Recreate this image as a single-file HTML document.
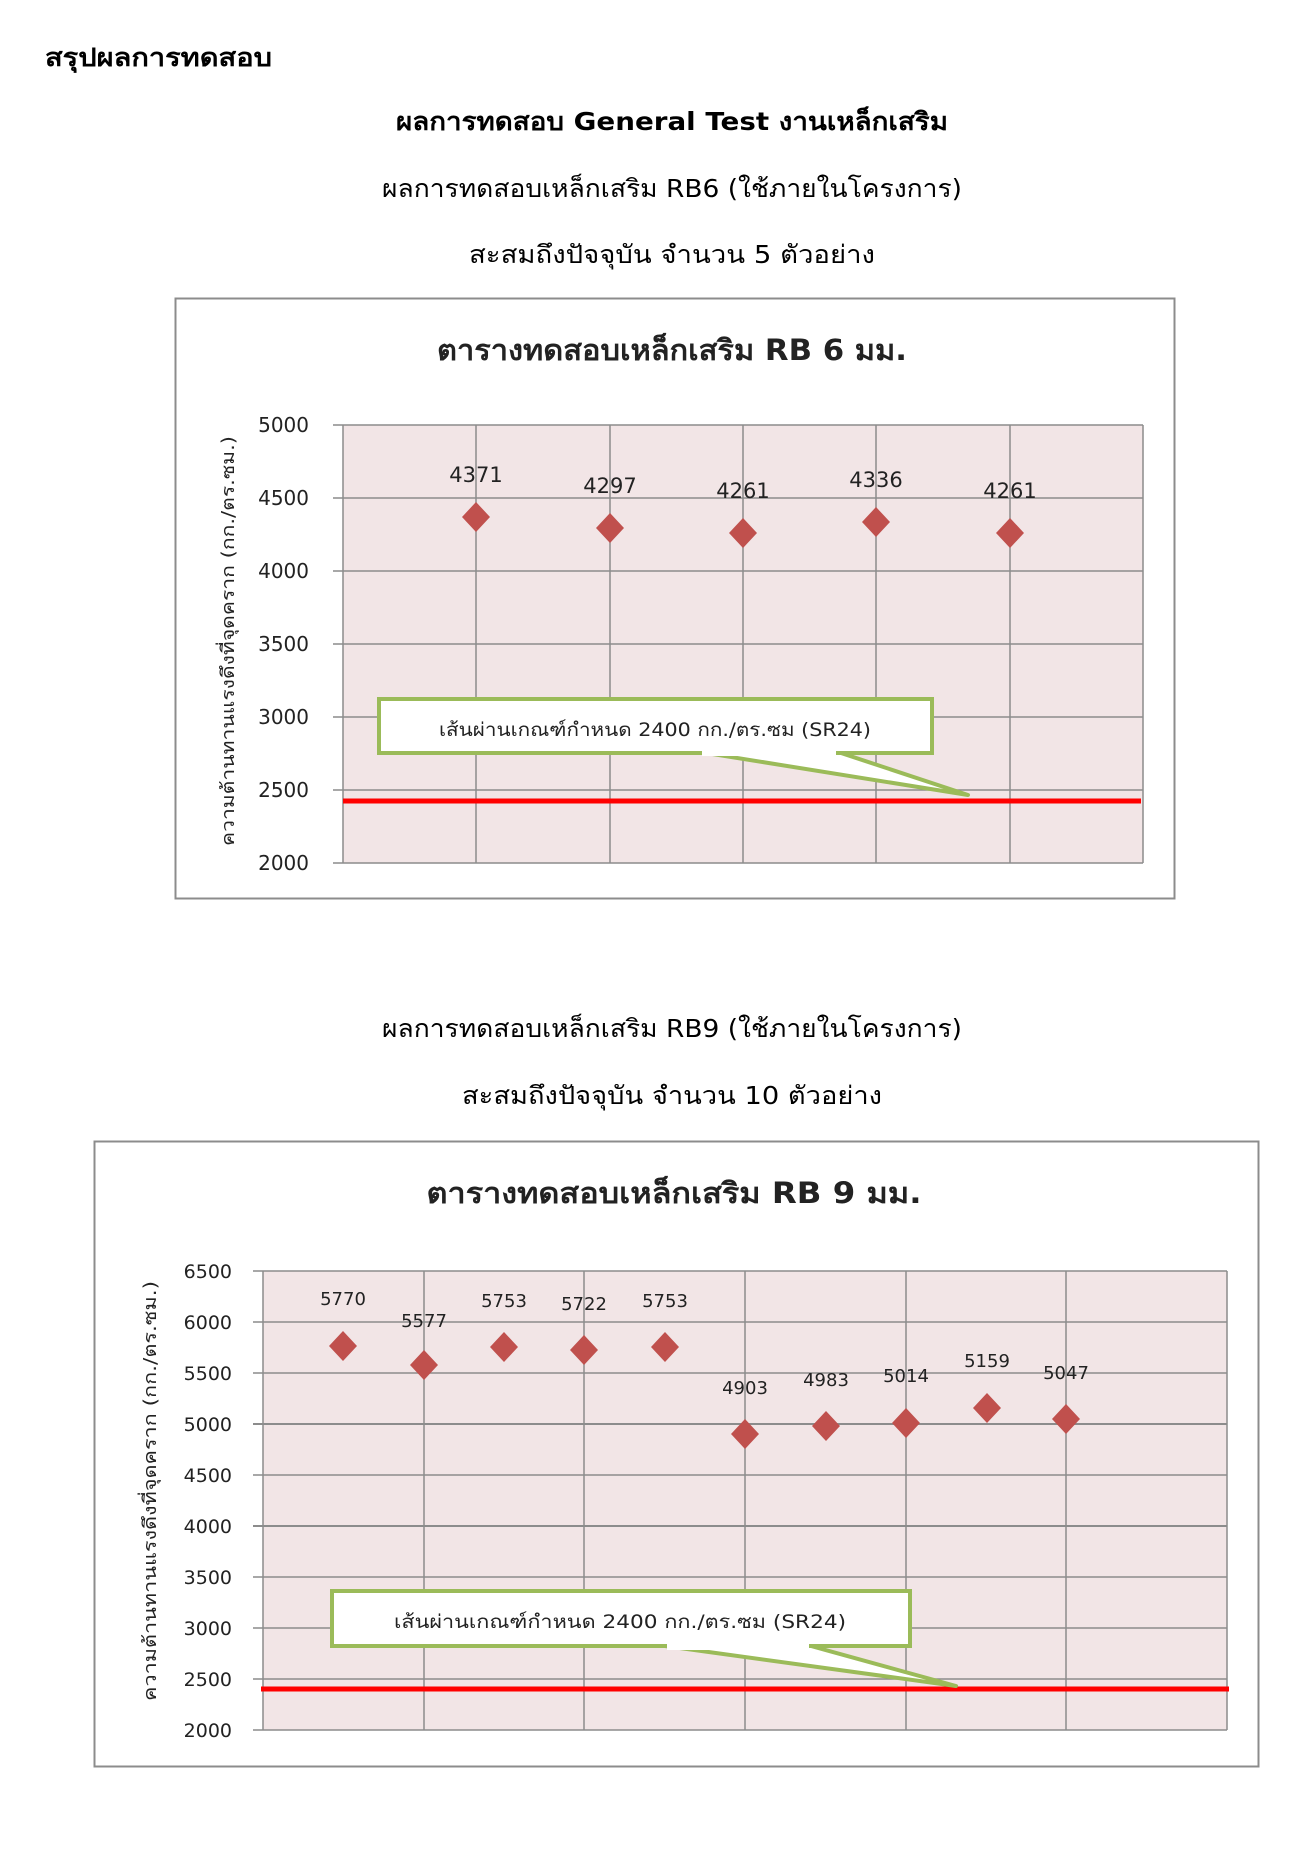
<!DOCTYPE html>
<html><head><meta charset="utf-8"><style>
html,body{margin:0;padding:0;background:#fff;}
svg{display:block;}
text{font-family:"DejaVu Sans","Liberation Sans",sans-serif;}
</style></head><body>
<svg width="1307" height="1872" viewBox="0 0 1307 1872" xmlns="http://www.w3.org/2000/svg">
<rect width="1307" height="1872" fill="#fff"/>
<text x="45" y="66" font-size="25" font-weight="bold" fill="#000" textLength="227" lengthAdjust="spacingAndGlyphs">สรุปผลการทดสอบ</text>
<text x="672" y="130" font-size="25" font-weight="bold" text-anchor="middle" textLength="552" lengthAdjust="spacingAndGlyphs">ผลการทดสอบ General Test งานเหล็กเสริม</text>
<text x="672" y="197" font-size="25" text-anchor="middle" textLength="580" lengthAdjust="spacingAndGlyphs">ผลการทดสอบเหล็กเสริม RB6 (ใช้ภายในโครงการ)</text>
<text x="672" y="263" font-size="25" text-anchor="middle" textLength="406" lengthAdjust="spacingAndGlyphs">สะสมถึงปัจจุบัน จำนวน 5 ตัวอย่าง</text>

<!-- Chart 1 -->
<rect x="175.5" y="298.5" width="999" height="600" fill="#fff" stroke="#8c8c8c" stroke-width="2"/>
<text x="672" y="360" font-size="29" font-weight="bold" text-anchor="middle" fill="#222" textLength="470" lengthAdjust="spacingAndGlyphs">ตารางทดสอบเหล็กเสริม RB 6 มม.</text>
<rect x="343" y="425" width="800" height="438" fill="#f2e5e6"/>
<g stroke="#8c8c8c" stroke-width="1.5">
<line x1="333" y1="425" x2="1143" y2="425"/><line x1="333" y1="498" x2="1143" y2="498"/><line x1="333" y1="571" x2="1143" y2="571"/><line x1="333" y1="644" x2="1143" y2="644"/><line x1="333" y1="717" x2="1143" y2="717"/><line x1="333" y1="790" x2="1143" y2="790"/><line x1="333" y1="863" x2="1143" y2="863"/>
<line x1="343" y1="425" x2="343" y2="863"/><line x1="476" y1="425" x2="476" y2="863"/><line x1="610" y1="425" x2="610" y2="863"/><line x1="743" y1="425" x2="743" y2="863"/><line x1="876" y1="425" x2="876" y2="863"/><line x1="1010" y1="425" x2="1010" y2="863"/><line x1="1143" y1="425" x2="1143" y2="863"/>
</g>
<g font-size="20" text-anchor="end" fill="#222">
<text x="309" y="432">5000</text><text x="309" y="505">4500</text><text x="309" y="578">4000</text><text x="309" y="651">3500</text><text x="309" y="724">3000</text><text x="309" y="797">2500</text><text x="309" y="870">2000</text>
</g>
<text transform="translate(234,641) rotate(-90)" font-size="18" text-anchor="middle" fill="#222" textLength="410" lengthAdjust="spacingAndGlyphs">ความต้านทานแรงดึงที่จุดคราก (กก./ตร.ซม.)</text>
<g fill="#c0504d">
<polygon points="476,502 490,517 476,532 462,517"/>
<polygon points="610,513 624,528 610,543 596,528"/>
<polygon points="743,518 757,533 743,548 729,533"/>
<polygon points="876,507 890,522 876,537 862,522"/>
<polygon points="1010,518 1024,533 1010,548 996,533"/>
</g>
<g font-size="21" text-anchor="middle" fill="#222">
<text x="476" y="482">4371</text><text x="610" y="493">4297</text><text x="743" y="498">4261</text><text x="876" y="487">4336</text><text x="1010" y="498">4261</text>
</g>
<line x1="343" y1="801" x2="1141" y2="801" stroke="#ff0000" stroke-width="5"/>
<polygon points="700,752 838,752 968,795" fill="#fff" stroke="#9bbb59" stroke-width="4" stroke-linejoin="round"/>
<rect x="379" y="699" width="553" height="54" fill="#fff" stroke="#9bbb59" stroke-width="4"/>
<rect x="702" y="746" width="134" height="10" fill="#fff"/>
<text x="655" y="736" font-size="19" text-anchor="middle" fill="#222" textLength="432" lengthAdjust="spacingAndGlyphs">เส้นผ่านเกณฑ์กำหนด 2400 กก./ตร.ซม (SR24)</text>

<!-- Section 2 headings -->
<text x="672" y="1037" font-size="25" text-anchor="middle" textLength="580" lengthAdjust="spacingAndGlyphs">ผลการทดสอบเหล็กเสริม RB9 (ใช้ภายในโครงการ)</text>
<text x="672" y="1104" font-size="25" text-anchor="middle" textLength="420" lengthAdjust="spacingAndGlyphs">สะสมถึงปัจจุบัน จำนวน 10 ตัวอย่าง</text>

<!-- Chart 2 -->
<rect x="94.5" y="1141.5" width="1164" height="625" fill="#fff" stroke="#8c8c8c" stroke-width="2"/>
<text x="674" y="1203" font-size="29" font-weight="bold" text-anchor="middle" fill="#222" textLength="495" lengthAdjust="spacingAndGlyphs">ตารางทดสอบเหล็กเสริม RB 9 มม.</text>
<rect x="263" y="1271" width="964" height="459" fill="#f2e5e6"/>
<g stroke="#8c8c8c" stroke-width="1.5">
<line x1="253" y1="1271" x2="1227" y2="1271"/><line x1="253" y1="1322" x2="1227" y2="1322"/><line x1="253" y1="1373" x2="1227" y2="1373"/><line x1="253" y1="1424" x2="1227" y2="1424" stroke-width="2"/><line x1="253" y1="1475" x2="1227" y2="1475"/><line x1="253" y1="1526" x2="1227" y2="1526" stroke-width="2"/><line x1="253" y1="1577" x2="1227" y2="1577"/><line x1="253" y1="1628" x2="1227" y2="1628"/><line x1="253" y1="1679" x2="1227" y2="1679"/><line x1="253" y1="1730" x2="1227" y2="1730"/>
<line x1="263" y1="1271" x2="263" y2="1730"/><line x1="424" y1="1271" x2="424" y2="1730"/><line x1="584" y1="1271" x2="584" y2="1730"/><line x1="745" y1="1271" x2="745" y2="1730"/><line x1="906" y1="1271" x2="906" y2="1730"/><line x1="1066" y1="1271" x2="1066" y2="1730"/><line x1="1227" y1="1271" x2="1227" y2="1730"/>
</g>
<g font-size="19" text-anchor="end" fill="#222">
<text x="232" y="1278">6500</text><text x="232" y="1329">6000</text><text x="232" y="1380">5500</text><text x="232" y="1431">5000</text><text x="232" y="1482">4500</text><text x="232" y="1533">4000</text><text x="232" y="1584">3500</text><text x="232" y="1635">3000</text><text x="232" y="1686">2500</text><text x="232" y="1737">2000</text>
</g>
<text transform="translate(156,1491) rotate(-90)" font-size="18" text-anchor="middle" fill="#222" textLength="420" lengthAdjust="spacingAndGlyphs">ความต้านทานแรงดึงที่จุดคราก (กก./ตร.ซม.)</text>
<g fill="#c0504d">
<polygon points="343,1331 357,1346 343,1361 329,1346"/>
<polygon points="424,1350 438,1365 424,1380 410,1365"/>
<polygon points="504,1332 518,1347 504,1362 490,1347"/>
<polygon points="584,1335 598,1350 584,1365 570,1350"/>
<polygon points="665,1332 679,1347 665,1362 651,1347"/>
<polygon points="745,1419 759,1434 745,1449 731,1434"/>
<polygon points="826,1411 840,1426 826,1441 812,1426"/>
<polygon points="906,1408 920,1423 906,1438 892,1423"/>
<polygon points="987,1393 1001,1408 987,1423 973,1408"/>
<polygon points="1066,1404 1080,1419 1066,1434 1052,1419"/>
</g>
<g font-size="18" text-anchor="middle" fill="#222">
<text x="343" y="1305">5770</text><text x="424" y="1327">5577</text><text x="504" y="1307">5753</text><text x="584" y="1310">5722</text><text x="665" y="1307">5753</text>
<text x="745" y="1394">4903</text><text x="826" y="1386">4983</text><text x="906" y="1382">5014</text><text x="987" y="1367">5159</text><text x="1066" y="1379">5047</text>
</g>
<line x1="261" y1="1689" x2="1229" y2="1689" stroke="#ff0000" stroke-width="5"/>
<polygon points="665,1646 811,1646 956,1686" fill="#fff" stroke="#9bbb59" stroke-width="4" stroke-linejoin="round"/>
<rect x="332" y="1591" width="578" height="55" fill="#fff" stroke="#9bbb59" stroke-width="4"/>
<rect x="667" y="1640" width="142" height="10" fill="#fff"/>
<text x="620" y="1628" font-size="19" text-anchor="middle" fill="#222" textLength="452" lengthAdjust="spacingAndGlyphs">เส้นผ่านเกณฑ์กำหนด 2400 กก./ตร.ซม (SR24)</text>
</svg>
</body></html>
